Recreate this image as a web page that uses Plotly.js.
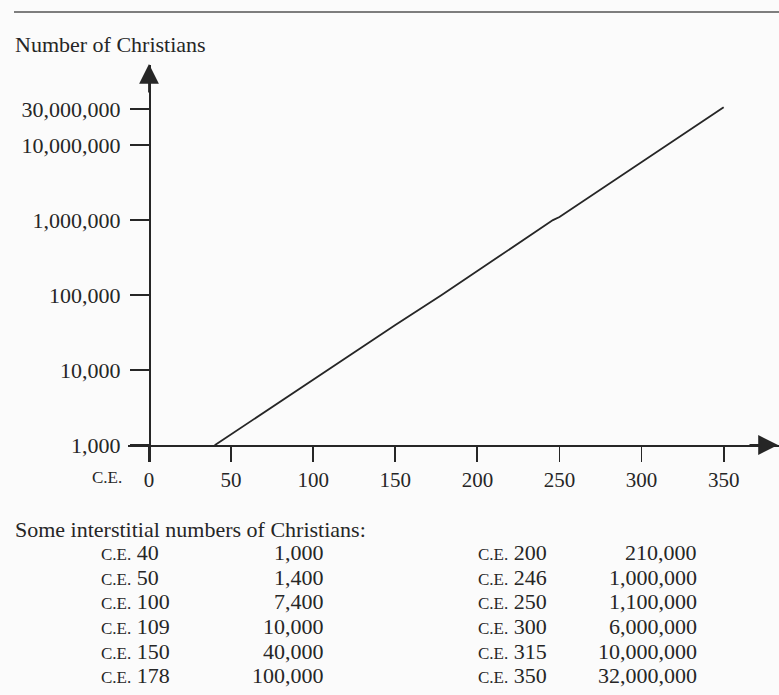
<!DOCTYPE html>
<html>
<head>
<meta charset="utf-8">
<script src="https://cdn.plot.ly/plotly-3.0.1.min.js"></script>
<style>html,body{margin:0;padding:0;background:#fbfbfb;}#chart{width:779px;height:695px;}</style>
</head>
<body>
<div id="chart"></div>
<script>
// ---- data ----
const years = [40, 50, 100, 109, 150, 178, 200, 246, 250, 300, 315, 350];
const christians = [1000, 1400, 7400, 10000, 40000, 100000, 210000, 1000000, 1100000, 6000000, 10000000, 32000000];
const yTickVals = [1000, 10000, 100000, 1000000, 10000000, 30000000];
const yTickText = ['1,000', '10,000', '100,000', '1,000,000', '10,000,000', '30,000,000'];
const xTickVals = [0, 50, 100, 150, 200, 250, 300, 350];
const xTickText = ['0', '50', '100', '150', '200', '250', '300', '350'];
const yTitle = 'Number of Christians';
const tableTitle = 'Some interstitial numbers of Christians:';
const eraLabel = 'C.E.';

// ---- layout helpers (pixel -> paper) ----
const W = 779, H = 695;
const M = {l: 128, r: 0, t: 65, b: 233};
const PW = W - M.l - M.r, PH = H - M.t - M.b;
const px = x => (x - M.l) / PW;
const py = y => (H - M.b - y) / PH;

const FONT = '"Liberation Serif", "Times New Roman", serif';
const INK = '#262626';
const TXT = 22;

const annotations = [];
// y-axis title
annotations.push({xref: 'paper', yref: 'paper', x: px(13), y: py(45), xanchor: 'left', yanchor: 'middle',
  text: yTitle, showarrow: false, font: {family: FONT, size: TXT, color: INK}});
// era label before x ticks
annotations.push({xref: 'paper', yref: 'paper', x: px(124), y: py(477), xanchor: 'right', yanchor: 'middle',
  text: eraLabel, showarrow: false, font: {family: FONT, size: 17, color: INK}});
// axis arrows
annotations.push({xref: 'paper', yref: 'paper', x: px(778), y: py(445), ax: -30, ay: 0, text: '',
  showarrow: true, arrowhead: 2, arrowsize: 2.2, arrowwidth: 1.8, arrowcolor: INK});
annotations.push({xref: 'paper', yref: 'paper', x: px(149), y: py(64), ax: 0, ay: 30, text: '',
  showarrow: true, arrowhead: 2, arrowsize: 2.2, arrowwidth: 1.8, arrowcolor: INK});
// table
annotations.push({xref: 'paper', yref: 'paper', x: px(13), y: py(529), xanchor: 'left', yanchor: 'middle',
  text: tableTitle, showarrow: false, font: {family: FONT, size: TXT, color: INK}});
const rowY = [552, 577, 601, 626, 651, 675];
years.forEach((yr, i) => {
  const col = i < 6 ? 0 : 1;
  const r = i % 6;
  const leftX = col === 0 ? 99 : 476;
  const rightX = col === 0 ? 326 : 699;
  annotations.push({xref: 'paper', yref: 'paper', x: px(leftX), y: py(rowY[r]), xanchor: 'left', yanchor: 'middle',
    text: '<span style="font-size:17px">' + eraLabel + '</span> ' + yr, showarrow: false,
    font: {family: FONT, size: TXT, color: INK}});
  annotations.push({xref: 'paper', yref: 'paper', x: px(rightX), y: py(rowY[r]), xanchor: 'right', yanchor: 'middle',
    text: christians[i].toLocaleString('en-US'), showarrow: false,
    font: {family: FONT, size: TXT, color: INK}});
});

const shapes = [
  {type: 'line', xref: 'paper', yref: 'paper', x0: px(14), x1: px(779), y0: py(12), y1: py(12),
   line: {color: '#555', width: 1.5}}
];

const trace = {
  x: years, y: christians, type: 'scatter', mode: 'lines',
  line: {color: INK, width: 1.8}, hoverinfo: 'skip'
};

const layout = {
  width: W, height: H,
  paper_bgcolor: '#fbfbfb', plot_bgcolor: 'rgba(0,0,0,0)',
  margin: {l: M.l, r: M.r, t: M.t, b: M.b, pad: 0},
  showlegend: false,
  font: {family: FONT, color: INK},
  xaxis: {
    range: [-12.8, 383.7], domain: [0, 1], anchor: 'free', position: py(445),
    showline: true, linecolor: INK, linewidth: 1.8,
    ticks: 'outside', ticklen: 15, tickwidth: 1.8, tickcolor: INK,
    tickvals: xTickVals, ticktext: xTickText,
    showgrid: false, zeroline: false,
    tickfont: {family: FONT, size: 21, color: INK}
  },
  yaxis: {
    type: 'log', range: [2.777, 8.067], domain: [0, 1], anchor: 'free', position: px(149),
    showline: true, linecolor: INK, linewidth: 1.8,
    ticks: 'outside', ticklen: 19, tickwidth: 1.8, tickcolor: INK,
    ticklabelstandoff: 5,
    tickvals: yTickVals, ticktext: yTickText,
    showgrid: false, zeroline: false,
    tickfont: {family: FONT, size: TXT, color: INK}
  },
  annotations: annotations,
  shapes: shapes
};

Plotly.newPlot('chart', [trace], layout, {displayModeBar: false, staticPlot: true});
</script>
</body>
</html>
